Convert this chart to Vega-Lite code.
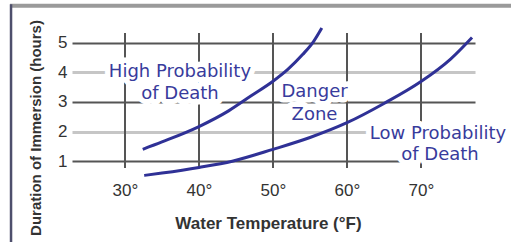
{
  "$schema": "https://vega.github.io/schema/vega-lite/v6.json",
  "width": 403,
  "height": 151,
  "autosize": {"type": "none"},
  "padding": {"left": 72, "top": 25, "right": 36, "bottom": 66},
  "background": "white",
  "config": {"view": {"stroke": null}},
  "resolve": {"axis": {"x": "independent", "y": "independent"}},
  "datasets": {
    "curves": [
      {"curve": "high", "temp": 32.4, "hours": 1.4},
      {"curve": "high", "temp": 35, "hours": 1.65},
      {"curve": "high", "temp": 40, "hours": 2.17},
      {"curve": "high", "temp": 44, "hours": 2.7},
      {"curve": "high", "temp": 47, "hours": 3.2},
      {"curve": "high", "temp": 50, "hours": 3.7},
      {"curve": "high", "temp": 52, "hours": 4.1},
      {"curve": "high", "temp": 54, "hours": 4.6},
      {"curve": "high", "temp": 55.5, "hours": 5.05},
      {"curve": "high", "temp": 56.6, "hours": 5.5},
      {"curve": "low", "temp": 32.6, "hours": 0.52},
      {"curve": "low", "temp": 35, "hours": 0.6},
      {"curve": "low", "temp": 40, "hours": 0.79},
      {"curve": "low", "temp": 44.5, "hours": 1.0},
      {"curve": "low", "temp": 50, "hours": 1.4},
      {"curve": "low", "temp": 55, "hours": 1.8},
      {"curve": "low", "temp": 60, "hours": 2.3},
      {"curve": "low", "temp": 65, "hours": 2.95},
      {"curve": "low", "temp": 70, "hours": 3.69},
      {"curve": "low", "temp": 74, "hours": 4.45},
      {"curve": "low", "temp": 76.9, "hours": 5.18}
    ],
    "labels": [
      {"label": "High Probability", "temp": 37.43, "hours": 3.844},
      {"label": "of Death", "temp": 37.43, "hours": 3.101},
      {"label": "Danger", "temp": 55.61, "hours": 3.168},
      {"label": "Zone", "temp": 55.61, "hours": 2.391},
      {"label": "Low Probability", "temp": 72.3, "hours": 1.75},
      {"label": "of Death", "temp": 72.57, "hours": 1.04}
    ],
    "vgrid": [{"temp": 30}, {"temp": 40}, {"temp": 50}, {"temp": 60}, {"temp": 70}]
  },
  "layer": [
    {
      "data": {"values": [{}]},
      "mark": {"type": "rule", "color": "#9a9a9a", "strokeWidth": 4, "clip": false},
      "encoding": {
        "x": {"datum": 14.46, "type": "quantitative", "scale": {"domain": [22.84, 77.3], "nice": false, "zero": false}, "axis": null},
        "x2": {"datum": 82.3},
        "y": {"datum": 6.25, "type": "quantitative", "scale": {"domain": [0.5, 5.6], "nice": false, "zero": false}, "axis": null}
      }
    },
    {
      "data": {"values": [{}]},
      "mark": {"type": "rule", "color": "#4e4f6c", "strokeWidth": 2.5, "clip": false},
      "encoding": {
        "x": {"datum": 14.6, "type": "quantitative", "axis": null},
        "y": {"datum": 6.3, "type": "quantitative", "axis": null},
        "y2": {"datum": -1.8}
      }
    },
    {
      "data": {"name": "vgrid"},
      "mark": {"type": "rule", "color": "#555555", "strokeWidth": 2},
      "encoding": {
        "x": {"field": "temp", "type": "quantitative", "axis": null},
        "y": {"datum": 0.77, "type": "quantitative", "axis": null},
        "y2": {"datum": 5.33}
      }
    },
    {
      "data": {"name": "labels"},
      "mark": {"type": "text", "font": "DejaVu Sans", "fontSize": 18, "align": "center", "baseline": "alphabetic", "fill": "white", "stroke": "white", "strokeWidth": 11, "strokeJoin": "round"},
      "encoding": {
        "x": {"field": "temp", "type": "quantitative", "axis": null},
        "y": {"field": "hours", "type": "quantitative", "axis": null},
        "text": {"field": "label"}
      }
    },
    {
      "data": {"name": "curves"},
      "mark": {"type": "line", "color": "#2f3196", "strokeWidth": 3, "interpolate": "monotone"},
      "encoding": {
        "x": {
          "field": "temp", "type": "quantitative",
          "axis": {
            "values": [30, 40, 50, 60, 70],
            "labelExpr": "datum.value + '°'",
            "grid": false, "domain": false, "ticks": false,
            "labelFont": "Liberation Sans",
            "labelFontSize": 17, "labelColor": "#333333", "labelPadding": 6,
            "title": "Water Temperature (°F)",
            "titleFont": "Liberation Sans",
            "titleFontSize": 17, "titleFontWeight": "bold", "titleColor": "#333333",
            "titleX": 196, "titleY": 52, "titleAlign": "center", "titleBaseline": "alphabetic"
          }
        },
        "y": {
          "field": "hours", "type": "quantitative",
          "axis": {
            "values": [1, 2, 3, 4, 5],
            "grid": true,
            "gridColor": {"condition": {"test": "datum.value % 2 === 0", "value": "#c6c6c6"}, "value": "#555555"},
            "gridWidth": {"condition": {"test": "datum.value % 2 === 0", "value": 3}, "value": 2},
            "domain": false, "ticks": false,
            "labelFont": "Liberation Sans",
            "labelFontSize": 17, "labelColor": "#333333", "labelPadding": 5,
            "title": "Duration of Immersion (hours)",
            "titleFont": "Liberation Sans",
            "titleFontSize": 15, "titleFontWeight": "bold", "titleColor": "#333333",
            "titleAngle": -90, "titleX": -32, "titleY": 102.5, "titleAlign": "center", "titleBaseline": "alphabetic"
          }
        },
        "detail": {"field": "curve"}
      }
    },
    {
      "data": {"name": "labels"},
      "mark": {"type": "text", "font": "DejaVu Sans", "fontSize": 18, "align": "center", "baseline": "alphabetic", "color": "#383b9c"},
      "encoding": {
        "x": {"field": "temp", "type": "quantitative", "axis": null},
        "y": {"field": "hours", "type": "quantitative", "axis": null},
        "text": {"field": "label"}
      }
    }
  ]
}
